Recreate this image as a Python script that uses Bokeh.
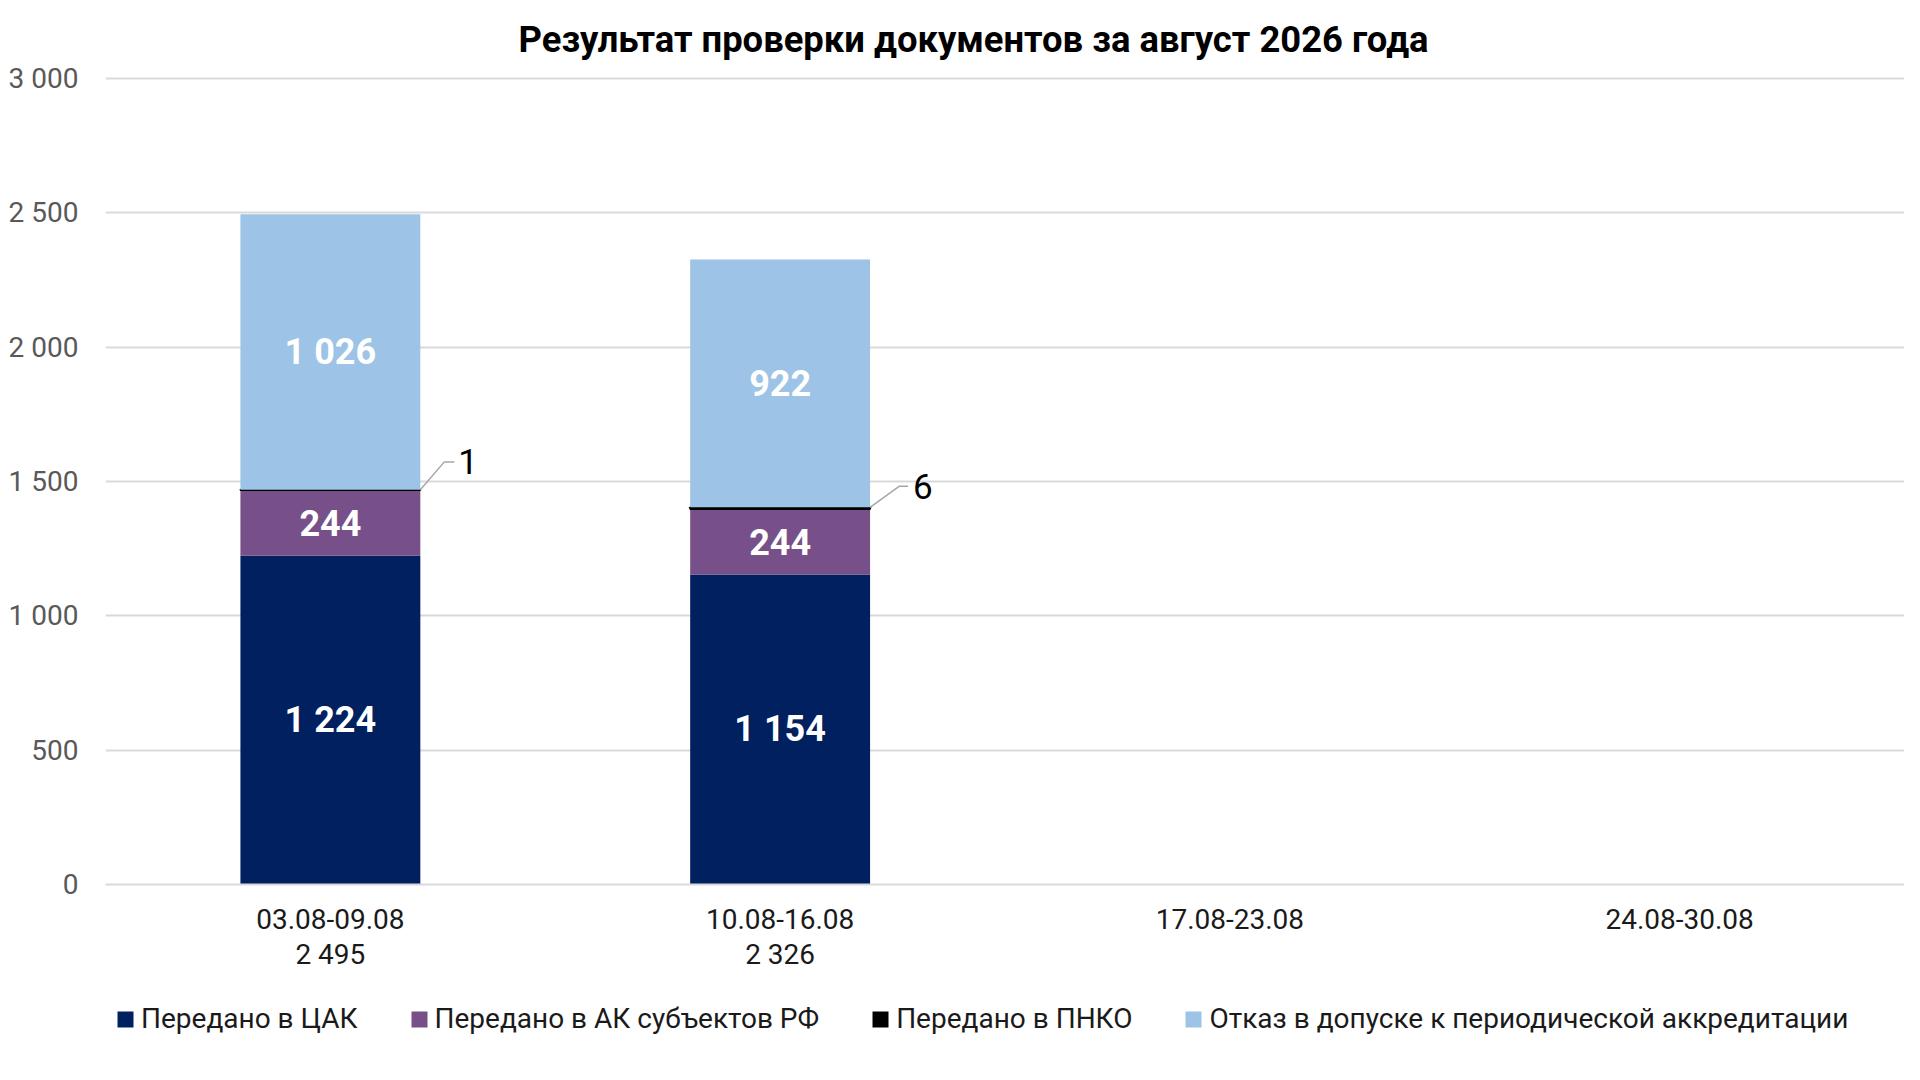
import math
from bokeh.plotting import figure
from bokeh.layouts import column
from bokeh.models import (ColumnDataSource, FactorRange, Range1d, FixedTicker, CategoricalAxis,
                          CustomJSTickFormatter)
from bokeh.core.properties import value
from bokeh.embed import file_html
from bokeh.resources import INLINE

# ---- data ----
weeks = ["03.08-09.08", "10.08-16.08", "17.08-23.08", "24.08-30.08"]
cak = [1224, 1154, float("nan"), float("nan")]      # Передано в ЦАК
ak = [244, 244, float("nan"), float("nan")]         # Передано в АК субъектов РФ
pnko = [1, 6, float("nan"), float("nan")]           # Передано в ПНКО
otkaz = [1026, 922, float("nan"), float("nan")]     # Отказ в допуске к периодической аккредитации
series_names = ["Передано в ЦАК", "Передано в АК субъектов РФ", "Передано в ПНКО",
                "Отказ в допуске к периодической аккредитации"]
y_ticks = [0, 500, 1000, 1500, 2000, 2500, 3000]
title_text = "Результат проверки документов за август 2026 года"

# ---- styles ----
colors = ["#002060", "#775089", "#000000", "#9DC3E6"]
FONT = "Roboto"
BAR_W = 0.4
LEAD_DX = [24, 29]
LEAD_DY = [28, 21]
LEAD_TAIL = [10, 9]
LABEL_GAP = [4, 5]

W = 1904
H1, H2 = 975, 89
Y_MAX = 3011
FL, FR, FB = 105, 0, 91
FT = 884 - round(808 * Y_MAX / 3000)
frame_w = W - FL - FR
frame_h = H1 - FT - FB
px_x = len(weeks) / frame_w
px_y = Y_MAX / frame_h
stackers = ["cak", "ak", "pnko", "otkaz"]


def fmt(v):
    return f"{int(v):,}".replace(",", " ")


def ok(v):
    return not (isinstance(v, float) and math.isnan(v))


src = ColumnDataSource(dict(week=weeks, cak=cak, ak=ak, pnko=pnko, otkaz=otkaz))

p = figure(x_range=FactorRange(factors=weeks), y_range=Range1d(0, Y_MAX),
           width=W, height=H1, output_backend="svg", toolbar_location=None,
           min_border_left=FL, min_border_right=FR, min_border_top=FT, min_border_bottom=FB)
p.outline_line_color = None
p.background_fill_color = "white"

p.title.text = title_text
p.title.align = "left"
p.title.offset = 413
p.title.standoff = 30
p.title.text_font = FONT
p.title.text_font_size = "36.4px"
p.title.text_font_style = "bold"
p.title.text_color = "black"

p.vbar_stack(stackers, x="week", width=BAR_W, source=src,
             fill_color=colors, line_color=colors,
             line_alpha=[0, 0, 1, 0], line_width=[0, 0, 2, 0])

# data labels in segments
lx, ly, lt = [], [], []
for i, w in enumerate(weeks):
    if not ok(cak[i]):
        continue
    bottoms = [0, cak[i], cak[i] + ak[i], cak[i] + ak[i] + pnko[i]]
    for val, b in ((cak[i], bottoms[0]), (ak[i], bottoms[1]), (otkaz[i], bottoms[3])):
        lx.append(w)
        ly.append(b + val / 2)
        lt.append(fmt(val))
p.text(x="x", y="y", text="t", source=ColumnDataSource(dict(x=lx, y=ly, t=lt)),
       text_color="white", text_font=value(FONT), text_font_style="bold",
       text_font_size="36px", text_align="center", text_baseline="middle")

# ПНКО labels with leader lines
xs, ys, sx, sy, st = [], [], [], [], []
for i, w in enumerate(weeks):
    if not ok(pnko[i]):
        continue
    top = cak[i] + ak[i] + pnko[i]
    x0 = i + 0.5 + BAR_W / 2
    x1 = x0 + LEAD_DX[i] * px_x
    y1 = top + LEAD_DY[i] * px_y
    x2 = x1 + LEAD_TAIL[i] * px_x
    xs.append([x0, x1, x2])
    ys.append([top, y1, y1])
    sx.append(x2 + LABEL_GAP[i] * px_x)
    sy.append(y1)
    st.append(fmt(pnko[i]))
p.multi_line(xs="xs", ys="ys", source=ColumnDataSource(dict(xs=xs, ys=ys)),
             line_color="#A6A6A6", line_width=1.5)
p.text(x="x", y="y", text="t", source=ColumnDataSource(dict(x=sx, y=sy, t=st)),
       text_color="black", text_font=value(FONT), text_font_size="35px",
       text_align="left", text_baseline="middle")

# y axis
p.yaxis.ticker = FixedTicker(ticks=y_ticks)
p.yaxis.major_label_overrides = {t: fmt(t) for t in y_ticks}
p.yaxis.axis_line_color = None
p.yaxis.major_tick_line_color = None
p.yaxis.minor_tick_line_color = None
p.yaxis.major_tick_out = 0
p.yaxis.major_tick_in = 0
p.yaxis.major_label_standoff = 27
p.yaxis.major_label_text_font = FONT
p.yaxis.major_label_text_font_size = "28px"
p.yaxis.major_label_text_color = "#595959"

# x axis: week names, with the zero line as the axis line
p.xaxis.axis_line_color = "#D9D9D9"
p.xaxis.axis_line_width = 2
p.xaxis.major_tick_line_color = None
p.xaxis.minor_tick_line_color = None
p.xaxis.major_label_standoff = 18
p.xaxis.major_label_text_font = FONT
p.xaxis.major_label_text_font_size = "28px"
p.xaxis.major_label_text_color = "#1a1a1a"

# second row of category labels: weekly totals
totals = {}
for i, w in enumerate(weeks):
    totals[w] = fmt(cak[i] + ak[i] + pnko[i] + otkaz[i]) if ok(cak[i]) else ""
ax2 = CategoricalAxis(formatter=CustomJSTickFormatter(args=dict(totals=totals),
                                                      code="return totals[tick] || ''"),
                      axis_line_color=None,
                      major_tick_line_color=None, minor_tick_line_color=None,
                      major_label_standoff=0, major_label_text_font=FONT,
                      major_label_text_font_size="28px", major_label_text_color="#1a1a1a")
p.add_layout(ax2, "below")

p.xgrid.grid_line_color = None
p.ygrid.grid_line_color = "#D9D9D9"
p.ygrid.grid_line_width = 2

# legend strip: same series (hidden renderers), only their legend is shown
p2 = figure(x_range=FactorRange(factors=weeks), y_range=Range1d(-2, -1), width=W, height=H2,
            output_backend="svg", toolbar_location=None,
            min_border_left=FL, min_border_right=0, min_border_top=17, min_border_bottom=0)
p2.axis.visible = False
p2.grid.grid_line_color = None
p2.outline_line_color = None
rs = p2.vbar_stack(stackers, x="week", width=BAR_W, source=src,
                   fill_color=colors, line_alpha=0,
                   legend_label=series_names)
for r in rs:
    r.visible = False
lg = p2.legend[0]
lg.orientation = "horizontal"
lg.location = "top_left"
lg.glyph_width = 20
lg.glyph_height = 20
lg.label_standoff = 6
lg.spacing = 51
lg.padding = 19
lg.margin = 10
lg.inactive_fill_alpha = 0
lg.border_line_color = None
lg.background_fill_alpha = 0
lg.label_text_font = FONT
lg.label_text_font_size = "28px"
lg.label_text_color = "#1a1a1a"

open("out.html", "w").write(file_html(column(p, p2, spacing=0), INLINE))
